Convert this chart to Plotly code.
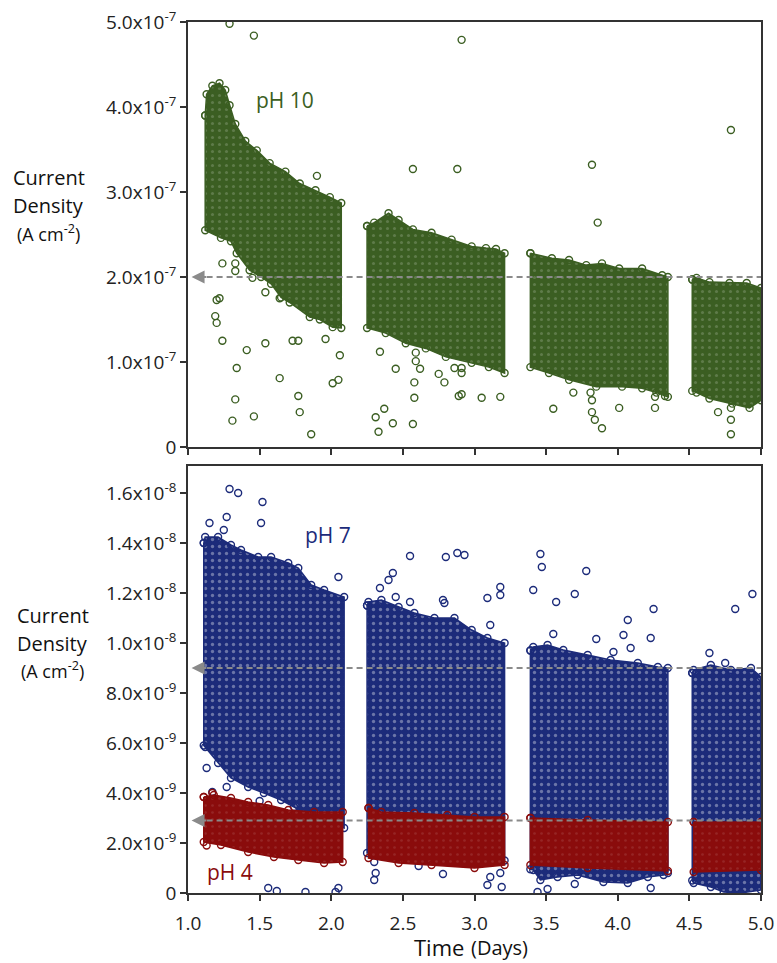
import plotly.graph_objects as go

# ---------------- data ----------------
# pH 10 (values in units of 1e-7 A cm^-2), one envelope list per measurement block
PH10_SCALE = 1e-7
ph10_top = [
    [(1.12, 3.90), (1.13, 4.15), (1.17, 4.25), (1.22, 4.28), (1.26, 4.20), (1.29, 4.02), (1.33, 3.80),
     (1.40, 3.60), (1.48, 3.49), (1.57, 3.34), (1.68, 3.24), (1.78, 3.10), (1.89, 3.02), (1.99, 2.94), (2.07, 2.87)],
    [(2.25, 2.60), (2.30, 2.64), (2.40, 2.75), (2.47, 2.67), (2.57, 2.56), (2.70, 2.52), (2.84, 2.44),
     (2.98, 2.36), (3.08, 2.34), (3.15, 2.33), (3.21, 2.28)],
    [(3.39, 2.28), (3.54, 2.22), (3.66, 2.20), (3.78, 2.14), (3.89, 2.16), (4.01, 2.10), (4.17, 2.10),
     (4.31, 2.02), (4.35, 2.00)],
    [(4.52, 1.97), (4.55, 1.99), (4.64, 1.94), (4.78, 1.93), (4.90, 1.93), (5.00, 1.87)],
]
ph10_bottom = [
    [(1.12, 2.55), (1.23, 2.46), (1.30, 2.42), (1.34, 2.28), (1.43, 2.08), (1.51, 2.00), (1.58, 1.92),
     (1.65, 1.76), (1.71, 1.70), (1.85, 1.53), (1.92, 1.50), (2.01, 1.41), (2.07, 1.40)],
    [(2.25, 1.40), (2.38, 1.34), (2.52, 1.22), (2.66, 1.16), (2.80, 1.06), (2.98, 0.99), (3.10, 0.94), (3.21, 0.87)],
    [(3.39, 0.94), (3.52, 0.87), (3.66, 0.79), (3.85, 0.71), (4.03, 0.71), (4.17, 0.69), (4.27, 0.64), (4.35, 0.59)],
    [(4.52, 0.66), (4.55, 0.64), (4.64, 0.57), (4.80, 0.51), (4.92, 0.46), (5.00, 0.55)],
]
ph10_outliers_day = [1.29, 1.46, 2.91, 2.57, 2.88, 1.90, 1.24, 1.33, 1.33, 1.45, 1.54, 1.64, 1.22, 1.20, 1.19,
                     1.20, 1.24, 1.41, 1.54, 1.73, 1.77, 1.96, 2.06, 1.34, 1.64, 2.01, 2.05, 1.33, 1.77, 1.31,
                     1.46, 1.78, 1.86, 2.34, 2.45, 2.59, 2.59, 2.62, 2.58, 2.58, 2.75, 2.79, 2.86, 2.91, 2.91,
                     2.89, 2.91, 2.31, 2.37, 2.33, 2.43, 2.57, 3.05, 3.18, 3.82, 3.86, 3.69, 3.81, 3.82, 3.55,
                     3.82, 3.84, 3.89, 4.01, 4.26, 4.26, 4.33, 4.79, 4.70, 4.79, 4.79, 4.79]
ph10_outliers_val = [4.98, 4.84, 4.79, 3.27, 3.27, 3.19, 2.16, 2.16, 2.07, 1.99, 1.82, 1.75, 1.75, 1.73, 1.54,
                     1.46, 1.25, 1.14, 1.22, 1.25, 1.25, 1.27, 1.08, 0.93, 0.81, 0.75, 0.79, 0.56, 0.60, 0.31,
                     0.36, 0.41, 0.15, 1.12, 0.92, 1.11, 1.01, 0.92, 0.76, 0.58, 0.86, 0.76, 0.93, 0.93, 0.87,
                     0.60, 0.62, 0.35, 0.45, 0.18, 0.28, 0.27, 0.58, 0.59, 3.32, 2.64, 0.64, 0.64, 0.55, 0.45,
                     0.41, 0.32, 0.22, 0.46, 0.46, 0.59, 0.60, 3.73, 0.41, 0.46, 0.32, 0.15]

# pH 7 and pH 4 (values in units of 1e-9 A cm^-2)
LOW_SCALE = 1e-9
ph7_top = [
    [(1.11, 14.0), (1.12, 14.24), (1.21, 14.24), (1.30, 13.92), (1.37, 13.72), (1.49, 13.44), (1.58, 13.44),
     (1.70, 13.20), (1.77, 13.00), (1.86, 12.32), (1.95, 12.12), (2.09, 11.84)],
    [(2.25, 11.50), (2.26, 11.64), (2.35, 11.72), (2.47, 11.44), (2.58, 11.20), (2.72, 11.00), (2.86, 11.00),
     (2.98, 10.52), (3.09, 10.20), (3.21, 10.00)],
    [(3.39, 9.70), (3.41, 9.84), (3.51, 9.92), (3.62, 9.72), (3.79, 9.52), (3.95, 9.32), (4.14, 9.20),
     (4.28, 9.04), (4.35, 9.00)],
    [(4.52, 8.80), (4.53, 8.92), (4.65, 9.12), (4.79, 8.92), (4.93, 9.00), (5.00, 8.64)],
]
ph7_bottom = [
    [(1.11, 5.90), (1.12, 5.84), (1.21, 5.20), (1.30, 4.60), (1.42, 4.24), (1.53, 4.00), (1.65, 3.72),
     (1.74, 3.44), (1.85, 3.00), (2.09, 2.60)],
    [(2.25, 1.60), (3.21, 1.30)],
    [(3.39, 0.95), (3.41, 0.92), (3.46, 0.52), (3.58, 0.64), (3.72, 0.72), (3.90, 0.44), (4.07, 0.40),
     (4.21, 0.64), (4.32, 0.72), (4.35, 0.80)],
    [(4.52, 0.50), (4.53, 0.40), (4.65, 0.24), (4.74, 0.04), (4.86, 0.00), (5.00, 0.12)],
]
ph7_outliers_day = [1.29, 1.35, 1.52, 1.51, 1.15, 1.27, 1.25, 2.05, 2.55, 2.80, 2.88, 2.93, 2.34, 2.40, 2.43,
                    2.45, 2.55, 2.78, 2.79, 1.13, 1.27, 1.17, 1.50, 1.56, 1.62, 1.82, 2.03, 2.05, 2.30, 2.31,
                    2.30, 2.61, 2.78, 3.18, 3.18, 3.09, 3.11, 3.46, 3.47, 3.41, 3.78, 3.70, 3.57, 3.55, 3.85,
                    4.07, 4.04, 4.09, 4.25, 4.23, 3.97, 4.64, 4.82, 4.94, 4.75, 3.11, 3.18, 3.19, 3.09, 3.44,
                    3.51, 3.70, 4.23]
ph7_outliers_val = [16.16, 16.00, 15.64, 14.80, 14.80, 15.04, 14.52, 12.64, 13.48, 13.44, 13.60, 13.52, 12.20,
                    12.52, 12.80, 11.84, 11.64, 11.72, 11.60, 5.00, 4.24, 4.04, 3.68, 0.20, 0.08, 0.04, 0.04,
                    0.20, 1.24, 0.80, 0.52, 1.08, 0.76, 12.24, 11.92, 11.80, 10.72, 13.56, 13.04, 12.12, 12.88,
                    11.96, 11.64, 10.36, 10.16, 10.92, 10.32, 9.80, 11.36, 10.20, 9.64, 9.60, 11.36, 11.96, 9.20,
                    0.64, 0.80, 0.24, 0.32, 0.04, 0.16, 0.36, 0.20]

ph4_top = [
    [(1.11, 3.84), (1.18, 3.92), (1.30, 3.80), (1.42, 3.64), (1.56, 3.52), (1.70, 3.32), (1.88, 3.24), (2.08, 3.24)],
    [(2.26, 3.40), (2.35, 3.24), (2.58, 3.20), (2.81, 3.12), (3.00, 3.04), (3.21, 3.04)],
    [(3.39, 3.00), (3.79, 2.92), (4.35, 2.84)],
    [(4.53, 2.84), (5.00, 2.84)],
]
ph4_bottom = [
    [(1.11, 2.04), (1.23, 1.92), (1.42, 1.64), (1.60, 1.44), (1.77, 1.32), (1.95, 1.20), (2.08, 1.24)],
    [(2.26, 1.40), (2.47, 1.20), (2.70, 1.12), (3.00, 1.00), (3.21, 1.12)],
    [(3.39, 1.12), (3.79, 1.00), (4.35, 0.88)],
    [(4.53, 0.84), (5.00, 0.92)],
]
ph4_outliers_day = [1.13, 1.17]
ph4_outliers_val = [1.90, 4.00]

# reference (dashed) levels
ph10_level = 2.0   # x1e-7
ph7_level = 9.0    # x1e-9
ph4_level = 2.9    # x1e-9

day_ticks = [1.0, 1.5, 2.0, 2.5, 3.0, 3.5, 4.0, 4.5, 5.0]
day_labels = ["1.0", "1.5", "2.0", "2.5", "3.0", "3.5", "4.0", "4.5", "5.0"]
top_tick_vals = [0, 1e-7, 2e-7, 3e-7, 4e-7, 5e-7]
top_tick_text = ["0", "1.0x10<sup>-7</sup>", "2.0x10<sup>-7</sup>", "3.0x10<sup>-7</sup>",
                 "4.0x10<sup>-7</sup>", "5.0x10<sup>-7</sup>"]
bot_tick_vals = [0, 2e-9, 4e-9, 6e-9, 8e-9, 1e-8, 1.2e-8, 1.4e-8, 1.6e-8]
bot_tick_text = ["0", "2.0x10<sup>-9</sup>", "4.0x10<sup>-9</sup>", "6.0x10<sup>-9</sup>",
                 "8.0x10<sup>-9</sup>", "1.0x10<sup>-8</sup>", "1.2x10<sup>-8</sup>",
                 "1.4x10<sup>-8</sup>", "1.6x10<sup>-8</sup>"]

# ---------------- styling ----------------
W, H = 777, 963
GREEN = "#3b5e22"
BLUE = "#1c2b7a"
RED = "#8a0c0c"
GRAY = "#8a8a8a"
AXIS = "#333333"
FONT = "Open Sans"

X0, X1 = 188, 761
TOP_Y0, TOP_Y1 = 22, 447
BOT_Y0, BOT_Y1 = 466, 893


def px_x(p):
    return p / W


def px_y(p):
    return 1 - p / H


fig = go.Figure()


def add_band(top, bottom, scale, color, xa, ya, speck_opacity, speck_solidity):
    for t, b in zip(top, bottom):
        xs = [p[0] for p in t] + [p[0] for p in reversed(b)] + [t[0][0]]
        ys = [p[1] * scale for p in t] + [p[1] * scale for p in reversed(b)] + [t[0][1] * scale]
        fig.add_trace(go.Scatter(
            x=xs, y=ys, mode="lines+markers", fill="toself", fillcolor=color,
            fillpattern=dict(shape=".", bgcolor=color, fgcolor="white", fgopacity=speck_opacity,
                             size=7, solidity=speck_solidity),
            line=dict(color=color, width=1.5),
            marker=dict(symbol="circle-open", size=7, color=color, line=dict(width=1.4)),
            xaxis=xa, yaxis=ya, hoverinfo="skip", showlegend=False))


def add_points(days, vals, scale, color, xa, ya):
    fig.add_trace(go.Scatter(
        x=days, y=[v * scale for v in vals], mode="markers",
        marker=dict(symbol="circle-open", size=7, color=color, line=dict(width=1.4)),
        xaxis=xa, yaxis=ya, hoverinfo="skip", showlegend=False))


# top panel: pH 10
add_band(ph10_top, ph10_bottom, PH10_SCALE, GREEN, "x", "y", 0.18, 0.15)
add_points(ph10_outliers_day, ph10_outliers_val, PH10_SCALE, GREEN, "x", "y")

# bottom panel: pH 7 then pH 4 on top
add_band(ph7_top, ph7_bottom, LOW_SCALE, BLUE, "x2", "y2", 0.35, 0.18)
add_points(ph7_outliers_day, ph7_outliers_val, LOW_SCALE, BLUE, "x2", "y2")
add_band(ph4_top, ph4_bottom, LOW_SCALE, RED, "x2", "y2", 0.1, 0.12)
add_points(ph4_outliers_day, ph4_outliers_val, LOW_SCALE, RED, "x2", "y2")

# dashed reference lines with arrow heads
levels = [(ph10_level * PH10_SCALE, "x", "y"), (ph7_level * LOW_SCALE, "x2", "y2"),
          (ph4_level * LOW_SCALE, "x2", "y2")]
for lvl, xa, ya in levels:
    fig.add_shape(type="line", xref=xa, yref=ya, x0=1.06, x1=5.0, y0=lvl, y1=lvl,
                  line=dict(color=GRAY, width=2, dash="6px,4px"), layer="above")
    fig.add_annotation(xref=xa, yref=ya, x=1.025, y=lvl, ax=16, ay=0, axref="pixel", ayref="pixel",
                       text="", showarrow=True, arrowhead=2, arrowsize=1.3, arrowwidth=2,
                       arrowcolor=GRAY)

axis_common = dict(showgrid=False, zeroline=False, showline=True, linewidth=1.8, linecolor=AXIS,
                   mirror=True, ticks="outside", ticklen=6, tickwidth=1.5, tickcolor=AXIS,
                   automargin=False, tickfont=dict(family=FONT, size=19, color="#222222"))

fig.update_layout(
    width=W, height=H, margin=dict(l=0, r=0, t=0, b=0),
    paper_bgcolor="white", plot_bgcolor="white", template="none", showlegend=False,
    xaxis=dict(domain=[px_x(X0), px_x(X1)], anchor="y", range=[1.0, 5.0], tickvals=day_ticks,
               showticklabels=False, **axis_common),
    yaxis=dict(domain=[px_y(TOP_Y1), px_y(TOP_Y0)], anchor="x", range=[0, 5e-7],
               tickvals=top_tick_vals, ticktext=top_tick_text, **axis_common),
    xaxis2=dict(domain=[px_x(X0), px_x(X1)], anchor="y2", range=[1.0, 5.0], tickvals=day_ticks,
                ticktext=day_labels, ticklabelstandoff=6, **axis_common),
    yaxis2=dict(domain=[px_y(BOT_Y1), px_y(BOT_Y0)], anchor="x2", range=[0, 1.708e-8],
                tickvals=bot_tick_vals, ticktext=bot_tick_text, **axis_common),
)
fig.update_xaxes(tickfont=dict(size=19))


def text(x, y, s, size, color="#111111", anchor="center"):
    fig.add_annotation(xref="paper", yref="paper", x=px_x(x), y=px_y(y), text=s, showarrow=False,
                       xanchor=anchor, yanchor="middle",
                       font=dict(family=FONT, size=size, color=color))


# y-axis titles
for cx, ys in [(49, (177, 205, 233)), (53, (615, 643, 670))]:
    text(cx, ys[0], "Current", 20)
    text(cx, ys[1], "Density", 20)
    text(cx, ys[2], "(A cm<sup>-2</sup>)", 18)

# x-axis title
text(466, 947, "Time", 22, anchor="right")
text(469, 947, "(Days)", 20, anchor="left")

# series labels
text(285, 100, "pH 10", 21, GREEN)
text(328, 535, "pH 7", 21, BLUE)
text(230, 872, "pH 4", 21, RED)

fig.write_html("out.html")
